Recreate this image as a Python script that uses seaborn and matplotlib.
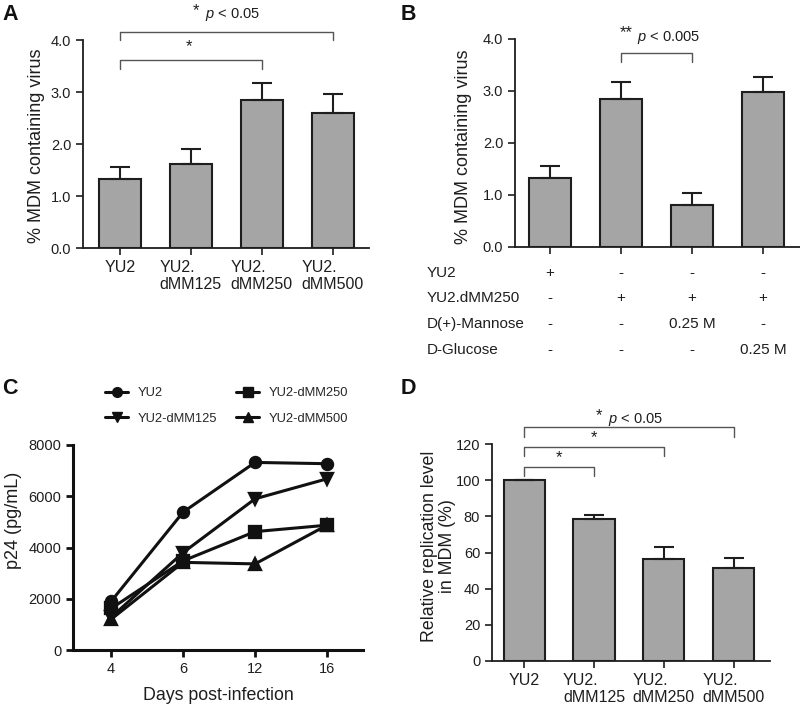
import numpy as np
import pandas as pd
import matplotlib
matplotlib.use("Agg")
import matplotlib.pyplot as plt
import matplotlib.transforms as mtransforms
from matplotlib.lines import Line2D
import seaborn as sns

# panel A / D categories
strains = ["YU2", "YU2.\ndMM125", "YU2.\ndMM250", "YU2.\ndMM500"]
a_means = [1.32, 1.62, 2.84, 2.60]
a_errs = [0.23, 0.29, 0.34, 0.37]

# panel B
b_means = [1.32, 2.84, 0.81, 2.98]
b_errs = [0.23, 0.34, 0.23, 0.29]
b_rows = ["YU2", "YU2.dMM250", "D(+)-Mannose", "D-Glucose"]
b_table = [["+", "-", "-", "-"],
           ["-", "+", "+", "+"],
           ["-", "-", "0.25 M", "-"],
           ["-", "-", "-", "0.25 M"]]

# panel C
days = [4, 6, 12, 16]
c_series = ["YU2", "YU2-dMM125", "YU2-dMM250", "YU2-dMM500"]
c_yu2 = [1900, 5380, 7320, 7270]
c_125 = [1280, 3800, 5900, 6680]
c_250 = [1620, 3480, 4620, 4870]
c_500 = [1200, 3420, 3360, 4870]
c_markers = ["o", "v", "s", "^"]

# panel D
d_means = [100, 78.5, 56.5, 51.5]
d_errs = [0, 2.5, 6.5, 5.5]

sns.set_style("ticks")
plt.rcParams["font.family"] = ["Liberation Sans", "DejaVu Sans"]
plt.rcParams["mathtext.fontset"] = "custom"
plt.rcParams["mathtext.it"] = "Liberation Sans:italic"
plt.rcParams["mathtext.rm"] = "Liberation Sans"

W, H = 800, 707
fig = plt.figure(figsize=(8, 7.07), dpi=100)

def px_axes(left, top, right, bottom):
    return fig.add_axes([left / W, 1 - bottom / H, (right - left) / W, (bottom - top) / H])

ink = "#1e1e1e"
bar_col = "#a5a5a5"
tick_fs = 10.5

def style(ax):
    sns.despine(ax=ax)
    for s in ["left", "bottom"]:
        ax.spines[s].set_linewidth(1.3)
        ax.spines[s].set_color(ink)
    ax.tick_params(axis="both", length=5, width=1.2, color=ink, labelsize=tick_fs,
                   labelcolor=ink)

def bars(ax, means, errs, xlim):
    sns.barplot(x=list(range(len(means))), y=means, ax=ax, color=bar_col, saturation=1,
                edgecolor=ink, linewidth=1.5, width=0.59, errorbar=None)
    ax.errorbar(range(len(means)), means, yerr=[np.zeros(len(errs)), errs], fmt="none",
                ecolor=ink, elinewidth=1.5, capsize=7.5, capthick=1.5)
    ax.set_xlim(*xlim)
    style(ax)

def bracket(ax, x0, x1, y, leg, lw=1.0):
    ax.plot([x0, x0, x1, x1], [y - leg, y, y, y - leg], color="#555555", lw=lw,
            clip_on=False)

# ---------- A ----------
axA = px_axes(83, 40, 369, 248)
bars(axA, a_means, a_errs, (-0.52, 3.51))
axA.set_ylim(0, 4)
axA.set_yticks([0, 1, 2, 3, 4])
axA.set_yticklabels([f"{v:.1f}" for v in [0, 1, 2, 3, 4]])
axA.set_xticks(range(4))
axA.set_xticklabels(strains, multialignment="left", fontsize=11.5)
axA.set_ylabel("% MDM containing virus", fontsize=13, color=ink)
axA.yaxis.set_label_coords(-0.133, 0.49)
bracket(axA, 0, 3, 4.15, 0.15)
bracket(axA, 0, 2, 3.62, 0.18)
axA.text(0.97, 3.72, "*", fontsize=12, ha="center", va="bottom", color=ink)
axA.text(1.07, 4.43, "*", fontsize=12, ha="center", va="bottom", color=ink,
         clip_on=False)
axA.text(1.2, 4.33, r"$\it{p}$ < 0.05", fontsize=10.5, ha="left", va="bottom",
         color=ink, clip_on=False)

# ---------- B ----------
axB = px_axes(515, 39, 800, 247)
bars(axB, b_means, b_errs, (-0.49, 3.52))
axB.set_ylim(0, 4)
axB.set_yticks([0, 1, 2, 3, 4])
axB.set_yticklabels([f"{v:.1f}" for v in [0, 1, 2, 3, 4]])
axB.set_xticks(range(4))
axB.set_xticklabels([])
axB.set_ylabel("% MDM containing virus", fontsize=13, color=ink)
axB.yaxis.set_label_coords(-0.151, 0.48)
bracket(axB, 1, 2, 3.73, 0.17)
axB.text(1.08, 3.97, "**", fontsize=12, ha="center", va="bottom", color=ink,
         clip_on=False)
axB.text(1.22, 3.87, r"$\it{p}$ < 0.005", fontsize=10.5, ha="left", va="bottom",
         color=ink, clip_on=False)
trB = mtransforms.blended_transform_factory(axB.transData, fig.transFigure)
row_y = [273, 298, 324, 350]
for r, (name, vals) in enumerate(zip(b_rows, b_table)):
    fig.text(427 / W, 1 - row_y[r] / H, name, fontsize=11, color=ink,
             ha="left", va="center")
    for i, v in enumerate(vals):
        axB.text(i, 1 - row_y[r] / H, v, transform=trB, fontsize=11, color=ink,
                 ha="center", va="center", clip_on=False)

# ---------- C ----------
axC = px_axes(73, 445, 363, 650)
df = pd.DataFrame({
    "day": days * 4,
    "p24": c_yu2 + c_125 + c_250 + c_500,
    "strain": sum([[s] * len(days) for s in c_series], []),
})
sns.pointplot(data=df, x="day", y="p24", hue="strain", hue_order=c_series,
              markers=c_markers, linestyles="-", palette=["#111111"] * 4,
              errorbar=None, ax=axC, markersize=8, linewidth=2.2, legend=False)
axC.set_xlim(-0.53, 3.5)
axC.set_ylim(0, 8000)
axC.set_yticks([0, 2000, 4000, 6000, 8000])
style(axC)
axC.spines["left"].set_linewidth(2.2)
axC.spines["bottom"].set_linewidth(2.2)
axC.spines["left"].set_color("#111111")
axC.spines["bottom"].set_color("#111111")
axC.tick_params(width=2, color="#111111")
axC.set_xlabel("Days post-infection", fontsize=12.8, color=ink, labelpad=8)
axC.set_ylabel("p24 (pg/mL)", fontsize=13, color=ink)
axC.yaxis.set_label_coords(-0.176, 0.63)
handles = [Line2D([], [], color="#111111", marker=m, lw=2.2, markersize=7)
           for m in c_markers]
axC.legend(handles, c_series, ncol=2, loc="upper left", frameon=False,
           bbox_to_anchor=(105 / W, 1 - 387 / H), bbox_transform=fig.transFigure,
           fontsize=9.3, handlelength=1.8, handletextpad=0.7, columnspacing=1.5,
           labelspacing=1.05, borderpad=0, borderaxespad=0)

# ---------- D ----------
axD = px_axes(492, 444, 770, 661)
bars(axD, d_means, d_errs, (-0.46, 3.52))
axD.set_ylim(0, 120)
axD.set_yticks(range(0, 121, 20))
axD.set_xticks(range(4))
axD.set_xticklabels(strains, multialignment="left", fontsize=11.5)
axD.set_ylabel("Relative replication level\nin MDM (%)", fontsize=12.8, color=ink,
               linespacing=1.1)
axD.yaxis.set_label_coords(-0.128, 0.53)
bracket(axD, 0, 3, 129.4, 5.5)
bracket(axD, 0, 2, 118.3, 5.0)
bracket(axD, 0, 1, 107.2, 5.0)
axD.text(0.5, 108.5, "*", fontsize=12, ha="center", va="bottom", color=ink)
axD.text(1.0, 119.6, "*", fontsize=12, ha="center", va="bottom", color=ink,
         clip_on=False)
axD.text(1.07, 131.5, "*", fontsize=12, ha="center", va="bottom", color=ink,
         clip_on=False)
axD.text(1.2, 129.0, r"$\it{p}$ < 0.05", fontsize=10.5, ha="left", va="bottom",
         color=ink, clip_on=False)

# panel letters
for lab, x, y in [("A", 2, 15), ("B", 401, 15), ("C", 2, 388), ("D", 401, 388)]:
    fig.text(x / W, 1 - y / H, lab, fontsize=15.5, fontweight="bold", color="#111111",
             ha="left", va="center")

fig.savefig("out.png", dpi=100)
